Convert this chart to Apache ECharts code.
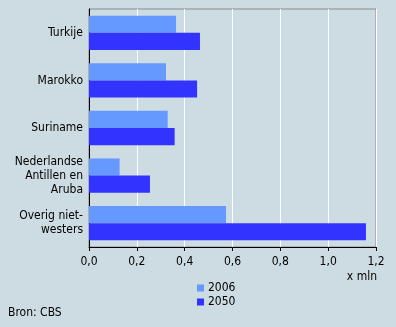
<!DOCTYPE html>
<html>
<head>
<meta charset="utf-8">
<script src="https://cdn.jsdelivr.net/npm/echarts@6/dist/echarts.min.js"></script>
<style>
html,body{margin:0;padding:0;background:#cddce2;}
#c{width:396px;height:327px;}
</style>
</head>
<body>
<div id="c"></div>
<script>
const categories = ["Turkije", "Marokko", "Suriname", "Nederlandse\nAntillen en\nAruba", "Overig niet-\nwesters"];
const seriesNames = ["2006", "2050"];
const values2006 = [0.364, 0.322, 0.329, 0.128, 0.573];
const values2050 = [0.464, 0.452, 0.358, 0.255, 1.158];
const xTicks = [0, 0.2, 0.4, 0.6, 0.8, 1.0, 1.2];

const chart = echarts.init(document.getElementById('c'), null, {renderer: 'canvas'});
const font = '"DejaVu Sans Condensed", "DejaVu Sans", Verdana, sans-serif';
chart.setOption({
  backgroundColor: '#cddce2',
  animation: false,
  textStyle: {fontFamily: font},
  grid: {left: 89, right: 20, top: 9, bottom: 80, show: true, borderColor: '#888888', borderWidth: 1, backgroundColor: 'transparent'},
  legend: {
    orient: 'vertical', left: 192, top: 277, itemWidth: 7, itemHeight: 7, itemGap: 2,
    icon: 'rect', data: seriesNames,
    textStyle: {fontFamily: font, fontSize: 12, color: '#000', padding: [0,0,0,-1]}
  },
  xAxis: {
    type: 'value', min: xTicks[0], max: xTicks[xTicks.length-1], interval: 0.2,
    axisLine: {show: true, lineStyle: {color: '#000'}},
    axisTick: {show: true, length: 4, lineStyle: {color: '#000'}},
    splitLine: {show: true, lineStyle: {color: '#ffffff', width: 1}},
    axisLabel: {fontFamily: font, fontSize: 12, color: '#000', margin: 9,
      formatter: v => v.toFixed(1).replace('.', ',')},
    name: 'x mln', nameLocation: 'end', nameGap: 0,
    nameTextStyle: {fontFamily: font, fontSize: 12, color: '#000', align: 'right', verticalAlign: 'top', padding: [24, -1, 0, 0]}
  },
  yAxis: {
    type: 'category', data: categories, inverse: true,
    axisLine: {show: true, lineStyle: {color: '#000'}},
    axisTick: {show: false},
    axisLabel: {fontFamily: font, fontSize: 12, color: '#000', margin: 6, lineHeight: 14, align: 'right'}
  },
  series: [
    {name: seriesNames[0], type: 'bar', data: values2006, barGap: '0%', barCategoryGap: '28%', itemStyle: {color: '#6699ff'}},
    {name: seriesNames[1], type: 'bar', data: values2050, barGap: '0%', barCategoryGap: '28%', itemStyle: {color: '#3333ff'}}
  ],
  graphic: [
    {type: 'text', left: 8, top: 307, style: {text: 'Bron: CBS', font: '12px ' + font, fill: '#000'}}
  ]
});
</script>
</body>
</html>
